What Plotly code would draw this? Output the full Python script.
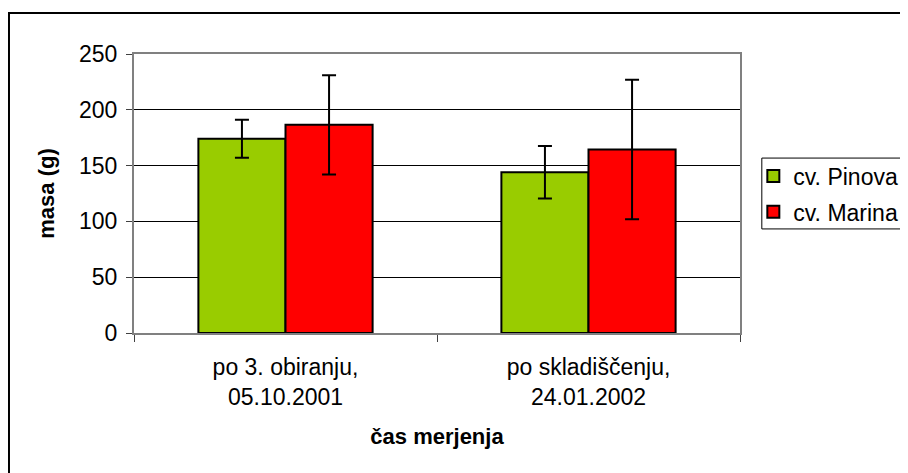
import plotly.graph_objects as go

# data
categories = ["po 3. obiranju,<br>05.10.2001", "po skladiščenju,<br>24.01.2002"]
series_names = ["cv. Pinova", "cv. Marina"]
pinova_mass = [174, 144]
pinova_err = [17, 23.5]
marina_mass = [186.5, 164.5]
marina_err = [44.5, 62.5]
y_ticks = [0, 50, 100, 150, 200, 250]

FONT = "Liberation Sans, Arial, sans-serif"
colors = ["#99CC00", "#FF0000"]

fig = go.Figure()

for name, vals, errs, col in zip(
    series_names, [pinova_mass, marina_mass], [pinova_err, marina_err], colors
):
    fig.add_trace(go.Bar(
        x=categories,
        y=vals,
        name=name,
        legendgroup=name,
        marker=dict(color=col, line=dict(color="black", width=2)),
        error_y=dict(type="data", array=errs, visible=True,
                     color="black", thickness=2, width=7),
    ))

# outer chart frame (cropped on right and bottom in the reference)
fig.add_shape(type="rect", xref="paper", yref="paper",
              x0=-0.2063, x1=1.6, y0=-0.7, y1=1.147,
              line=dict(color="black", width=2), layer="below")

# legend frame
fig.add_shape(type="rect", xref="paper", yref="paper",
              x0=1.036, x1=1.4, y0=0.373, y1=0.627,
              line=dict(color="black", width=1))

# the page adds an 8px body margin, so the figure is 8px smaller
fig.update_layout(
    width=900,
    height=465,
    margin=dict(l=126, r=168, t=46, b=140, autoexpand=False),
    paper_bgcolor="white",
    plot_bgcolor="white",
    font=dict(family=FONT, size=23, color="black"),
    barmode="group",
    bargap=0.425,
    bargroupgap=0,
    showlegend=True,
    legend=dict(
        x=1.022, y=0.64, xanchor="left", yanchor="top",
        bgcolor="rgba(0,0,0,0)", borderwidth=0,
        font=dict(family=FONT, size=23, color="black"),
        itemsizing="constant", traceorder="grouped", tracegroupgap=3,
    ),
    xaxis=dict(
        title=dict(text="<b>čas merjenja</b>", font=dict(size=22), standoff=20),
        automargin=False,
        showgrid=False,
        tickson="boundaries",
        ticks="outside", ticklen=7, tickcolor="#404040", tickwidth=1,
        showline=True, linecolor="#808080", linewidth=2, mirror=True,
        ticklabelstandoff=12,
    ),
    yaxis=dict(
        title=dict(text="<b>masa (g)</b>", font=dict(size=22), standoff=18),
        automargin=False,
        range=[0, 250],
        tickvals=y_ticks,
        showgrid=True, gridcolor="black", gridwidth=1,
        ticks="outside", ticklen=6, tickcolor="#404040", tickwidth=1,
        showline=True, linecolor="#808080", linewidth=2, mirror=True,
        zeroline=False,
        ticklabelstandoff=4,
    ),
)

fig.write_html("out.html")
